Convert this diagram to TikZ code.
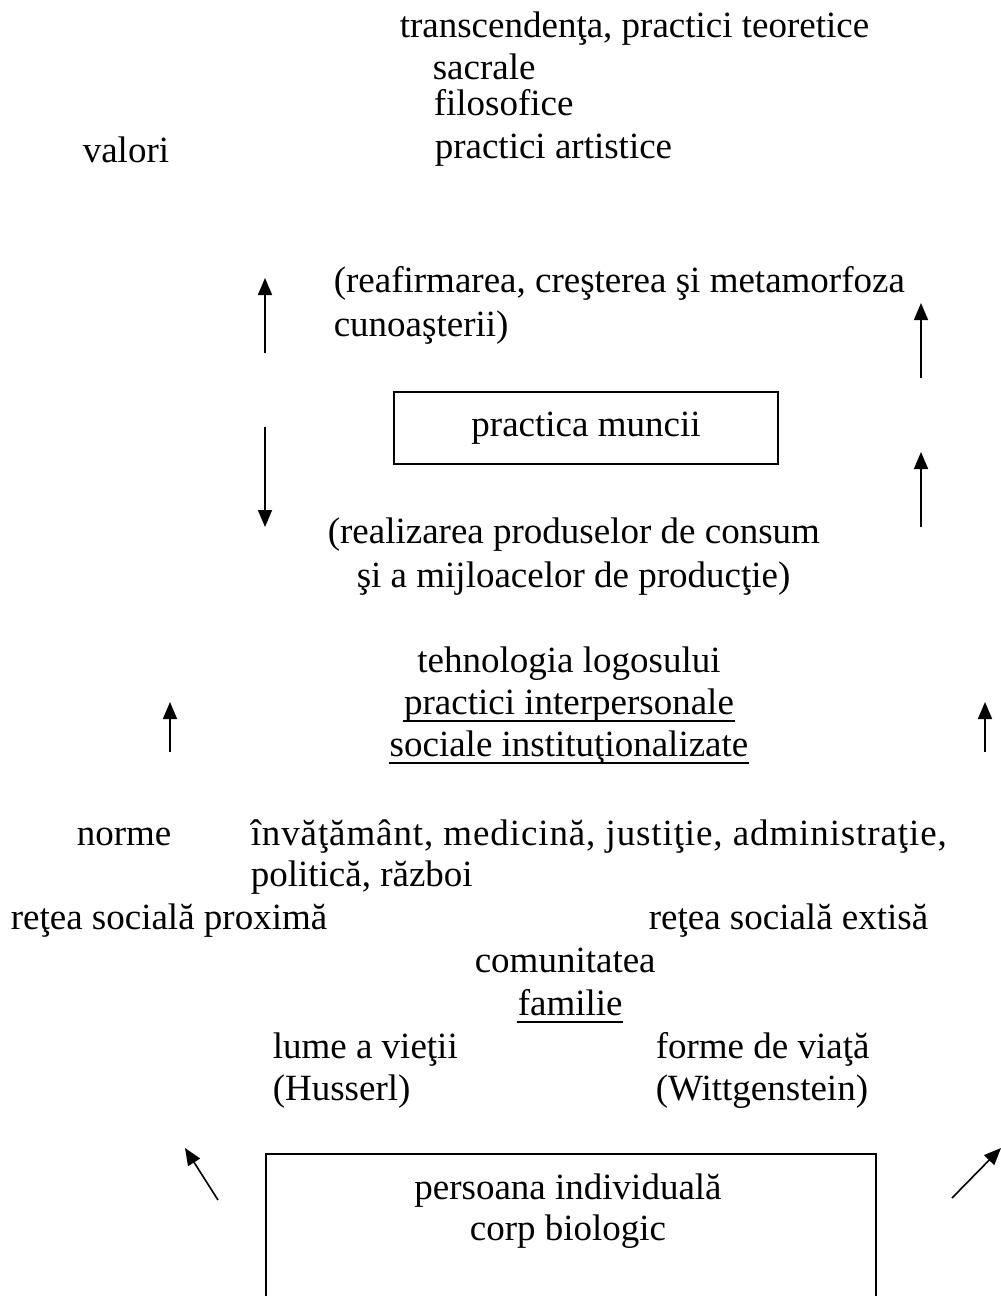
\documentclass[tikz,border=0pt]{standalone}
\usepackage{fontspec}
\setmainfont{Liberation Serif}
\usetikzlibrary{arrows.meta}

\begin{document}
\begin{tikzpicture}[x = 1pt, y = -1pt, line width = 1.6pt,
  txt/.style = {anchor = base west, inner sep = 0pt, font = \fontsize{37}{42}\selectfont},
  ctxt/.style = {anchor = base, inner sep = 0pt, font = \fontsize{37}{42}\selectfont},
  arr/.style = {-{Triangle[width = 14pt, length = 17pt]}}]
\useasboundingbox (0, 0) rectangle (1001, 1296);
% Top
\node[txt] (trans) at (399, 37) {transcendenţa, practici teoretice};
\node[txt] (sacr) at (432, 79) {sacrale};
\node[txt] (filo) at (433, 115) {filosofice};
\node[txt] (art) at (434, 158) {practici artistice};
\node[txt] (valori) at (82, 162) {valori};
% Work practice
\node[txt] (reaf) at (333, 292) {(reafirmarea, creşterea şi metamorfoza};
\node[txt] (cunoa) at (333, 336) {cunoaşterii)};
\node[draw, minimum width = 384pt, minimum height = 72pt, inner sep = 0pt,
  font = \fontsize{37}{42}\selectfont] (munca) at (586, 428) {practica muncii};
\node[txt] (realiz) at (327, 543) {(realizarea produselor de consum};
\node[txt] (mijl) at (356, 587) {şi a mijloacelor de producţie)};
% Logos
\node[ctxt] (logos) at (569, 672) {tehnologia logosului};
\node[ctxt] (interp) at (569, 714) {practici interpersonale};
\node[ctxt] (instit) at (569, 756) {sociale instituţionalizate};
\draw[line width = 1.4pt] ([yshift = -7pt]interp.base west) -- ([yshift = -7pt]interp.base east);
\draw[line width = 1.4pt] ([yshift = -7pt]instit.base west) -- ([yshift = -7pt]instit.base east);
% Norms
\node[txt] (norme) at (76, 845) {norme};
\node[txt] (inv) at (250, 845) {\addfontfeature{LetterSpace=2.4}învăţământ, medicină, justiţie, administraţie,};
\node[txt] (pol) at (250, 886) {politică, război};
\node[txt] (prox) at (10, 929) {reţea socială proximă};
\node[txt] (ext) at (648, 929) {reţea socială extisă};
\node[txt] (comun) at (474, 972) {comunitatea};
\node[txt] (fam) at (517, 1015) {familie};
\draw[line width = 1.4pt] ([yshift = -7pt]fam.base west) -- ([yshift = -7pt]fam.base east);
\node[txt] (lume) at (272, 1058) {lume a vieţii};
\node[txt] (huss) at (272, 1100) {(Husserl)};
\node[txt] (forme) at (655, 1058) {forme de viaţă};
\node[txt] (witt) at (655, 1100) {(Wittgenstein)};
% Person box
\draw (266, 1296) -- (266, 1154) -- (876, 1154) -- (876, 1296);
\node[ctxt] (pers) at (568, 1199) {persoana individuală};
\node[ctxt] (corp) at (568, 1240) {corp biologic};
% Arrows
\coordinate (a1s) at (265, 353); \coordinate (a1e) at (265, 278);
\coordinate (a2s) at (265, 427); \coordinate (a2e) at (265, 527);
\coordinate (a3s) at (921, 378); \coordinate (a3e) at (921, 303);
\coordinate (a4s) at (921, 527); \coordinate (a4e) at (921, 452);
\coordinate (a5s) at (170, 752); \coordinate (a5e) at (170, 702);
\coordinate (a6s) at (985, 752); \coordinate (a6e) at (985, 702);
\coordinate (a7s) at (218, 1200); \coordinate (a7e) at (185, 1148);
\coordinate (a8s) at (952, 1198); \coordinate (a8e) at (1001, 1148);
\draw[arr] (a1s) -- (a1e);
\draw[arr] (a2s) -- (a2e);
\draw[arr] (a3s) -- (a3e);
\draw[arr] (a4s) -- (a4e);
\draw[arr] (a5s) -- (a5e);
\draw[arr] (a6s) -- (a6e);
\draw[arr] (a7s) -- (a7e);
\draw[arr] (a8s) -- (a8e);
\end{tikzpicture}
\end{document}
